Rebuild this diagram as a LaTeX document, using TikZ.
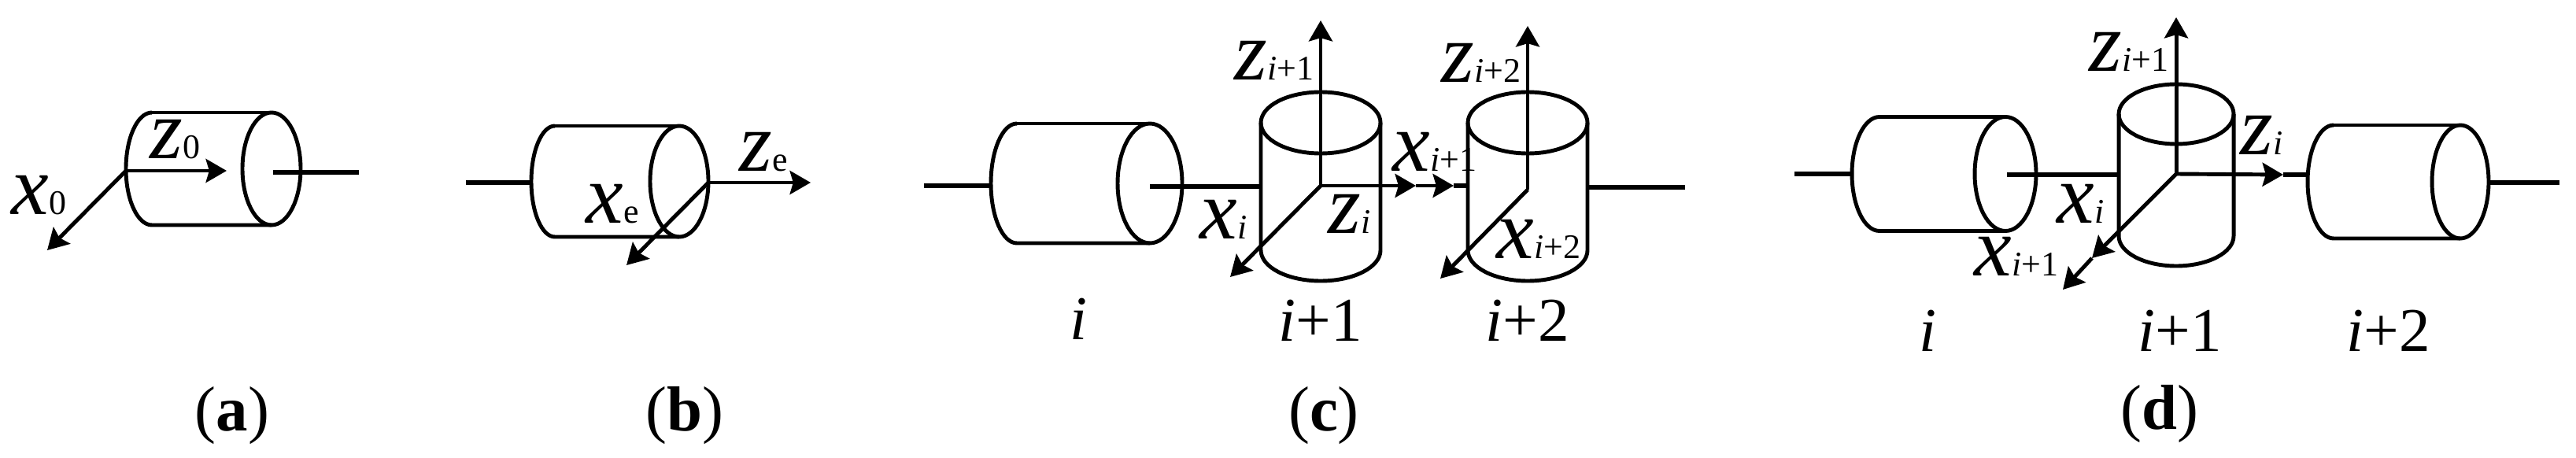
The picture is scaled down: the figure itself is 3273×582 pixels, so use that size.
\documentclass[tikz,border=0pt]{standalone}
\usepackage{fontspec}
\setmainfont{Liberation Serif}
\usetikzlibrary{arrows.meta}
\tikzset{every node/.style={draw=none,inner sep=0pt}}
\tikzset{t/.style={anchor=base west}}
\tikzset{c/.style={anchor=base}}
\tikzset{body/.style={line width=1.4pt}}
\tikzset{shaft/.style={line width=1.6pt}}
\tikzset{axis/.style={line width=1.4pt,-{Stealth[length=7.5pt,width=8.5pt,inset=1.2pt]}}}
\newcommand{\ax}[1]{{\fontsize{30.5}{32}\selectfont\itshape #1}}
\newcommand{\sub}[1]{{\fontsize{12.5}{13}\selectfont #1}}
\newcommand{\num}[1]{{\fontsize{22.5}{24}\selectfont #1}}
\newcommand{\capn}[1]{{\fontsize{23}{25}\selectfont (\textbf{#1})}}
\newcommand{\ip}[1]{\textit{i}+#1}
\newcommand{\hcyl}[6]{
  \draw[body] (#1,#3-#6) arc[start angle=90,end angle=270,x radius=#4*0.01cm,y radius=#6*0.01cm] -- (#2,#3+#6);
  \draw[body] (#1,#3-#6) -- (#2,#3-#6);
  \draw[body] (#2,#3) circle[x radius=#5*0.01cm,y radius=#6*0.01cm];
}
\newcommand{\vcyl}[5]{
  \draw[body] (#1,#2) circle[x radius=#4*0.01cm,y radius=#5*0.01cm];
  \draw[body] (#1-#4,#2) -- (#1-#4,#3) arc[start angle=180,end angle=360,x radius=#4*0.01cm,y radius=#5*0.01cm] -- (#1+#4,#2);
}
\begin{document}
\begin{tikzpicture}[x=0.01cm,y=-0.01cm]
  \useasboundingbox (0,0) rectangle (3273,582);
  \hcyl{193}{345}{214.5}{33}{37}{71.5}
  \coordinate (oa) at (160,217);
  \coordinate (za) at (288,217);
  \coordinate (xa) at (60,318);
  \coordinate (ra) at (347,219);
  \coordinate (ea) at (456,219);
  \draw[axis] (oa) -- (za);
  \draw[axis] (oa) -- (xa);
  \draw[shaft] (ra) -- (ea);
  \node[t] (Za) at (190,202) {\ax{z}\sub{0}};
  \node[t] (Xa) at (14,272) {\ax{x}\sub{0}};
  \node[c] (capa) at (295,547) {\capn{a}};

  \hcyl{705}{863}{230.5}{30}{37}{70.5}
  \coordinate (lb) at (592,232);
  \coordinate (mb) at (675,232);
  \coordinate (ob) at (900,232);
  \coordinate (zb) at (1030,232);
  \coordinate (xb) at (796,337);
  \draw[shaft] (lb) -- (mb);
  \draw[axis] (ob) -- (zb);
  \draw[axis] (ob) -- (xb);
  \node[t] (Xb) at (744,283) {\ax{x}\sub{e}};
  \node[t] (Zb) at (939,218) {\ax{z}\sub{e}};
  \node[c] (capb) at (870,547) {\capn{b}};

  \hcyl{1292}{1461}{233}{33}{41}{76}
  \vcyl{1678}{156}{318}{76}{39}
  \vcyl{1941}{156}{318}{76}{39}
  \coordinate (lc) at (1174,236);
  \coordinate (mc) at (1259,236);
  \coordinate (rc) at (1461,237);
  \coordinate (sc) at (1601,237);
  \coordinate (oc) at (1678,236);
  \coordinate (tc) at (1799,236);
  \coordinate (uc) at (1847,236);
  \coordinate (vc) at (1864,236);
  \coordinate (yc) at (1678,26);
  \coordinate (xc) at (1563,352);
  \coordinate (pc) at (1941,241);
  \coordinate (qc) at (1941,33);
  \coordinate (wc) at (1830,354);
  \coordinate (ec) at (2017,238);
  \coordinate (fc) at (2141,238);
  \draw[shaft] (lc) -- (mc);
  \draw[shaft] (rc) -- (sc);
  \draw[axis] (oc) -- (yc);
  \draw[axis] (oc) -- (xc);
  \draw[axis] (oc) -- (tc);
  \draw[axis] (tc) -- (uc);
  \draw[shaft] (uc) -- (vc);
  \draw[axis] (pc) -- (qc);
  \draw[axis] (pc) -- (wc);
  \draw[shaft] (ec) -- (fc);
  \node[t] (Zc) at (1568,102) {\ax{z}\sub{\ip{1}}};
  \node[t] (Zd) at (1831,105) {\ax{z}\sub{\ip{2}}};
  \node[t] (Xc) at (1769,218) {\ax{x}\sub{\ip{1}}};
  \node[t] (Xd) at (1524,304) {\ax{x}\sub{\textit{i}}};
  \node[t] (Ze) at (1687,296) {\ax{z}\sub{\textit{i}}};
  \node[t] (Xe) at (1901,328) {\ax{x}\sub{\ip{2}}};
  \node[c] (ic) at (1370,431) {\num{\textit{i}}};
  \node[c] (jc) at (1678,433) {\num{\ip{1}}};
  \node[c] (kc) at (1941,433) {\num{\ip{2}}};
  \node[c] (capc) at (1682,547) {\capn{c}};

  \hcyl{2388}{2548}{221}{35}{39}{72.5}
  \vcyl{2765}{145}{300}{73}{38}
  \hcyl{2965}{3126}{231}{33}{36}{72}
  \coordinate (ld) at (2280,221);
  \coordinate (md) at (2353,221);
  \coordinate (rd) at (2550,222);
  \coordinate (sd) at (2691,222);
  \coordinate (od) at (2765,221);
  \coordinate (yd) at (2765,22);
  \coordinate (td) at (2658,328);
  \coordinate (xd) at (2621,368);
  \coordinate (ud) at (2901,222);
  \coordinate (vd) at (2932,222);
  \coordinate (ed) at (3162,232);
  \coordinate (fd) at (3252,232);
  \draw[shaft] (ld) -- (md);
  \draw[shaft] (rd) -- (sd);
  \draw[axis] (od) -- (yd);
  \draw[axis] (od) -- (td);
  \draw[axis] (td) -- (xd);
  \draw[axis] (od) -- (ud);
  \draw[shaft] (ud) -- (vd);
  \draw[shaft] (ed) -- (fd);
  \node[t] (Zf) at (2654,91) {\ax{z}\sub{\ip{1}}};
  \node[t] (Zg) at (2846,196) {\ax{z}\sub{\textit{i}}};
  \node[t] (Xf) at (2613,284) {\ax{x}\sub{\textit{i}}};
  \node[t] (Xg) at (2508,350) {\ax{x}\sub{\ip{1}}};
  \node[c] (id) at (2449,446) {\num{\textit{i}}};
  \node[c] (jd) at (2770,446) {\num{\ip{1}}};
  \node[c] (kd) at (3035,446) {\num{\ip{2}}};
  \node[c] (capd) at (2744,545) {\capn{d}};
\end{tikzpicture}
\end{document}
